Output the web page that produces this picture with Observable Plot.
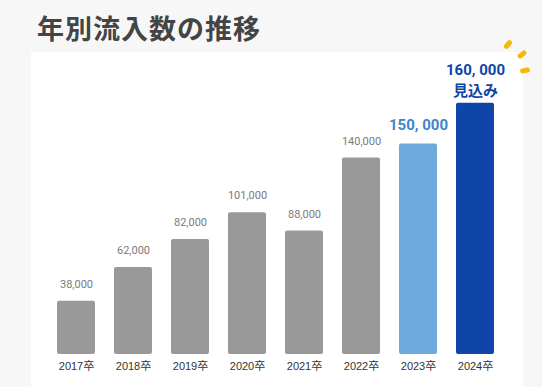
<!DOCTYPE html>
<html><head><meta charset="utf-8">
<script src="https://cdn.jsdelivr.net/npm/d3@7"></script>
<script src="https://cdn.jsdelivr.net/npm/@observablehq/plot@0.6"></script>
<style>
body{margin:0;background:#f7f7f7;}
#wrap{position:relative;width:542px;height:387px;overflow:hidden;background:#f7f7f7;}
#panel{position:absolute;left:31px;top:52px;width:492px;height:335px;background:#fff;}
#title{position:absolute;left:37px;top:14px;font:700 27px/27px "Noto Sans CJK JP",sans-serif;color:#444;letter-spacing:1px;white-space:nowrap;}
#chart{position:absolute;left:0;top:0;}
.spark{position:absolute;height:5px;width:10px;background:#f5b90e;border-radius:3px;transform-origin:center;}
</style></head>
<body><div id="wrap">
<div id="panel"></div>
<div id="title">年別流入数の推移</div>
<div id="chart"></div>
<span class="spark" style="left:503px;top:42px;transform:rotate(-50deg)"></span>
<span class="spark" style="left:517px;top:52px;transform:rotate(-38deg)"></span>
<span class="spark" style="left:520px;top:68px;transform:rotate(-10deg)"></span>
</div>
<script>
// categories
const years = ["2017卒","2018卒","2019卒","2020卒","2021卒","2022卒","2023卒","2024卒"];
// bar heights as drawn (the 2024 forecast bar is drawn taller than its label)
const values = [38000, 62000, 82000, 101000, 88000, 140000, 150000, 179000];
// value labels as printed
const labels = ["38,000","62,000","82,000","101,000","88,000","140,000","150, 000","160, 000\n見込み"];
// status of each year
const kinds = ["実績","実績","実績","実績","実績","実績","前年","見込み"];

const data = years.map((year, i) => ({year, value: values[i], label: labels[i], kind: kinds[i]}));
const boldFont = "Roboto,'Noto Sans CJK JP',sans-serif";

const chart = Plot.plot({
  width: 542,
  height: 387,
  marginLeft: 46.4,
  marginRight: 38,
  marginTop: 73.4,
  marginBottom: 33,
  style: {background: "transparent", fontFamily: "'Liberation Sans','Noto Sans CJK JP',sans-serif", fontSize: "11px", color: "#333"},
  x: {domain: years, paddingInner: 0.33, paddingOuter: 0.165, label: null, tickSize: 0, tickPadding: 8},
  y: {domain: [0, 200000], axis: null},
  color: {domain: ["実績","前年","見込み"], range: ["#999999","#6fa8dc","#0f45a8"]},
  marks: [
    Plot.barY(data, {x: "year", y: "value", fill: "kind", rx: 2}),
    Plot.text(data.filter(d => d.kind === "実績"), {
      x: "year", y: "value", text: "label", dy: -17, fill: "#7a7a7a",
      fontSize: 11, fontFamily: "Roboto, sans-serif"
    }),
    Plot.text(data.filter(d => d.kind === "前年"), {
      x: "year", y: "value", text: "label", dy: -19, fill: "#3d86cc",
      fontSize: 15, fontWeight: 700, fontFamily: boldFont
    }),
    Plot.text(data.filter(d => d.kind === "見込み"), {
      x: "year", y: "value", text: "label", dy: -7, lineAnchor: "bottom", lineHeight: 1.45,
      fill: "#0f45a8", fontSize: 15, fontWeight: 700, fontFamily: boldFont
    })
  ]
});
document.getElementById("chart").appendChild(chart);
</script>
</body></html>
